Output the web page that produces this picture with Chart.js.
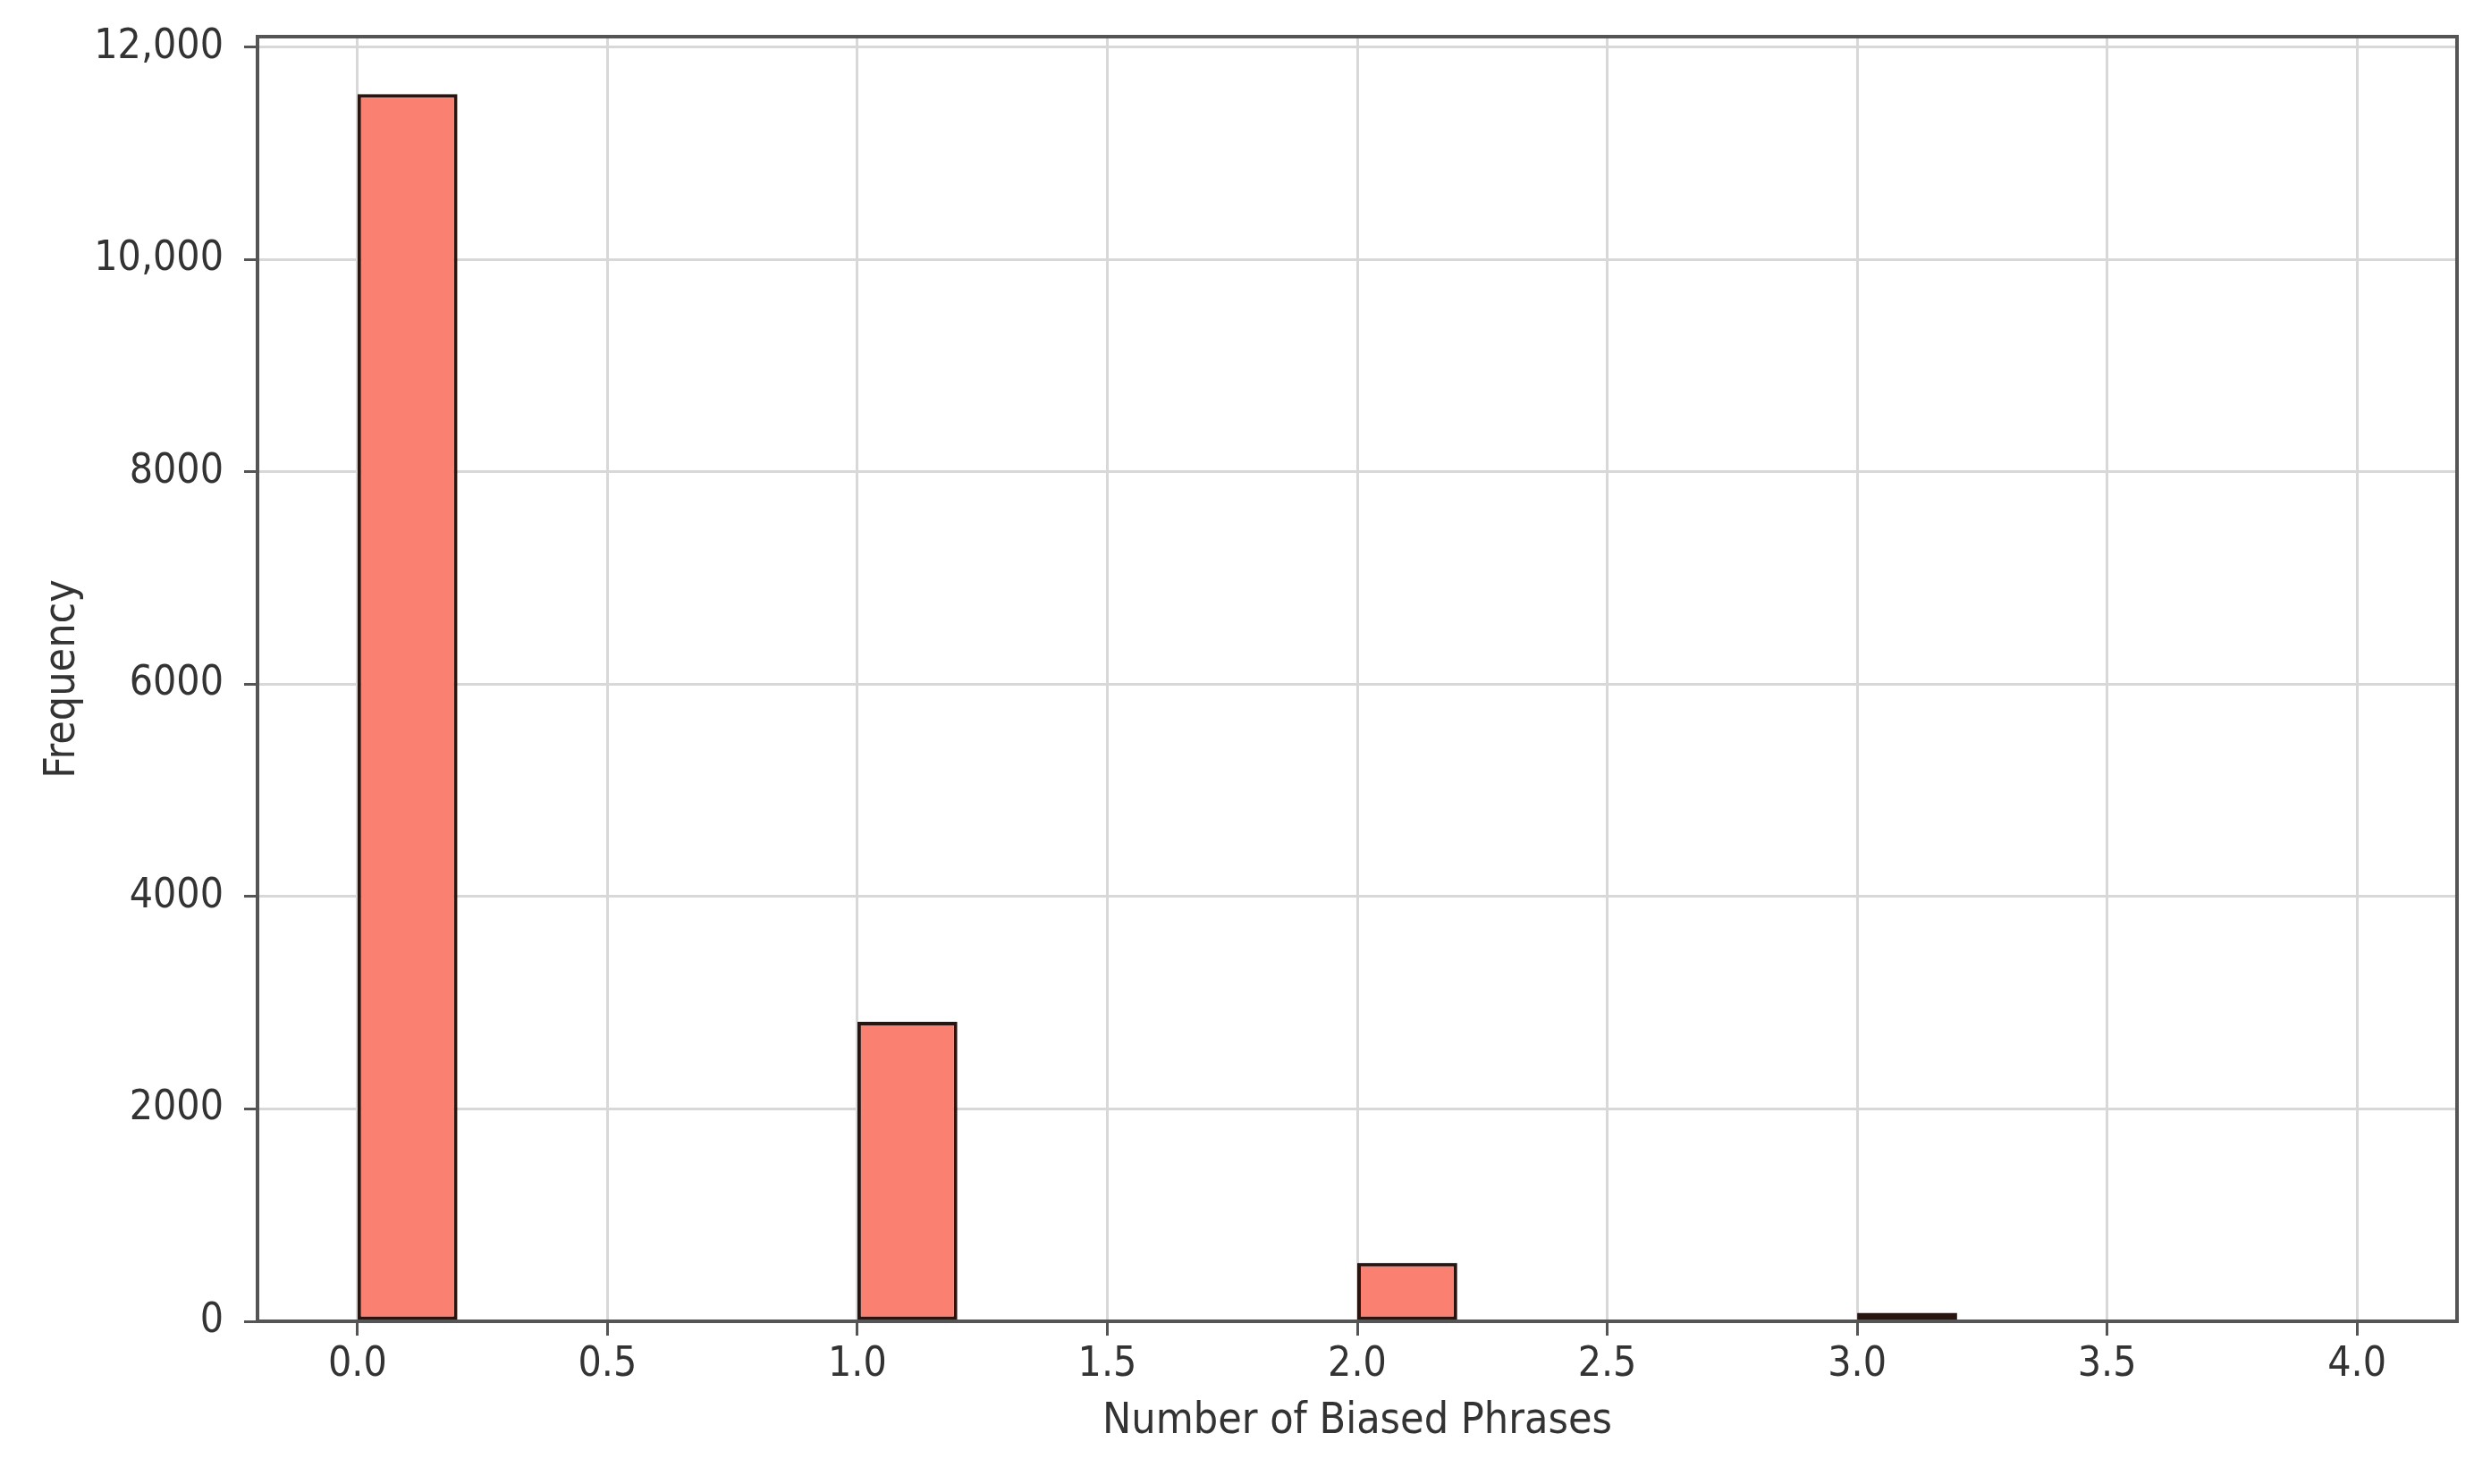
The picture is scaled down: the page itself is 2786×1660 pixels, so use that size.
<!DOCTYPE html>
<html>
<head>
<meta charset="utf-8">
<script src="https://cdn.jsdelivr.net/npm/chart.js@4.4.1/dist/chart.umd.min.js"></script>
<style>
  html, body { margin: 0; padding: 0; background: #ffffff; }
  #wrap { width: 2786px; height: 1660px; }
</style>
</head>
<body>
<div id="wrap"><canvas id="hist" width="2786" height="1660"></canvas></div>
<script>
// DATA
const binEdges = [0, 1, 2, 3];          // left edge of each non-empty bin
const binWidth = 0.2;
const counts = [11560, 2820, 550, 80];
const xTicks = [0, 0.5, 1, 1.5, 2, 2.5, 3, 3.5, 4];
const yTicks = [0, 2000, 4000, 6000, 8000, 10000, 12000];
const xTitle = "Number of Biased Phrases";
const yTitle = "Frequency";

// STYLE
const FONT = "'DejaVu Sans Condensed', 'DejaVu Sans', sans-serif";
const TEXT = "#333333";
const AXIS = "#555555";
const GRID = "#d8d8d8";

const points = binEdges.map((e, i) => ({ x: e + binWidth / 2, y: counts[i] }));

// frame round the plot (matplotlib spines)
const frame = {
    id: "frame",
    afterDatasetsDraw(chart) {
        const a = chart.chartArea;
        const c = chart.ctx;
        c.save();
        c.strokeStyle = AXIS;
        c.lineWidth = 4;
        c.strokeRect(a.left, a.top, a.right - a.left, a.bottom - a.top);
        c.restore();
    }
};

const ctx = document.getElementById("hist").getContext("2d");

new Chart(ctx, {
    type: "bar",
    data: {
        datasets: [{
            data: points,
            backgroundColor: "#fa8072",
            borderColor: "#2a1410",
            borderWidth: 4,
            borderSkipped: false,
            // bar width relative to the 0.5 tick spacing -> one 0.2 bin
            barPercentage: binWidth / (xTicks[1] - xTicks[0]),
            categoryPercentage: 1.0
        }]
    },
    options: {
        responsive: false,
        animation: false,
        devicePixelRatio: 1,
        layout: { padding: { left: 0, top: 41, right: 38, bottom: 0 } },
        plugins: {
            legend: { display: false },
            tooltip: { enabled: false }
        },
        scales: {
            x: {
                type: "linear",
                offset: false,
                min: -0.2,
                max: 4.2,
                afterBuildTicks: s => { s.ticks = xTicks.map(v => ({ value: v })); },
                afterFit: s => { s.height = 182; },
                border: { display: false },
                grid: {
                    offset: false,
                    color: GRID,
                    lineWidth: 3,
                    tickColor: AXIS,
                    tickWidth: 3,
                    tickLength: 16
                },
                ticks: {
                    color: TEXT,
                    font: { family: FONT, size: 46 },
                    padding: 5,
                    maxRotation: 0,
                    autoSkip: false,
                    callback: v => v.toFixed(1)
                },
                title: {
                    display: true,
                    text: xTitle,
                    color: TEXT,
                    font: { family: FONT, size: 48 },
                    padding: { top: 0, bottom: 41 }
                }
            },
            y: {
                min: 0,
                max: 12100,
                afterBuildTicks: s => { s.ticks = yTicks.map(v => ({ value: v })); },
                afterFit: s => {
                    s.width = 288;
                    // keep the top label from pushing the plot down
                    s.paddingTop = 0;
                    s.paddingBottom = 0;
                },
                border: { display: false },
                grid: {
                    color: GRID,
                    lineWidth: 3,
                    tickColor: AXIS,
                    tickWidth: 3,
                    tickLength: 15
                },
                ticks: {
                    color: TEXT,
                    font: { family: FONT, size: 46 },
                    padding: 23,
                    callback: v => v >= 10000 ? v.toLocaleString("en-US") : String(v)
                },
                title: {
                    display: true,
                    text: yTitle,
                    color: TEXT,
                    font: { family: FONT, size: 48 },
                    padding: { top: 42, bottom: 0 }
                }
            }
        }
    },
    plugins: [frame]
});
</script>
</body>
</html>
